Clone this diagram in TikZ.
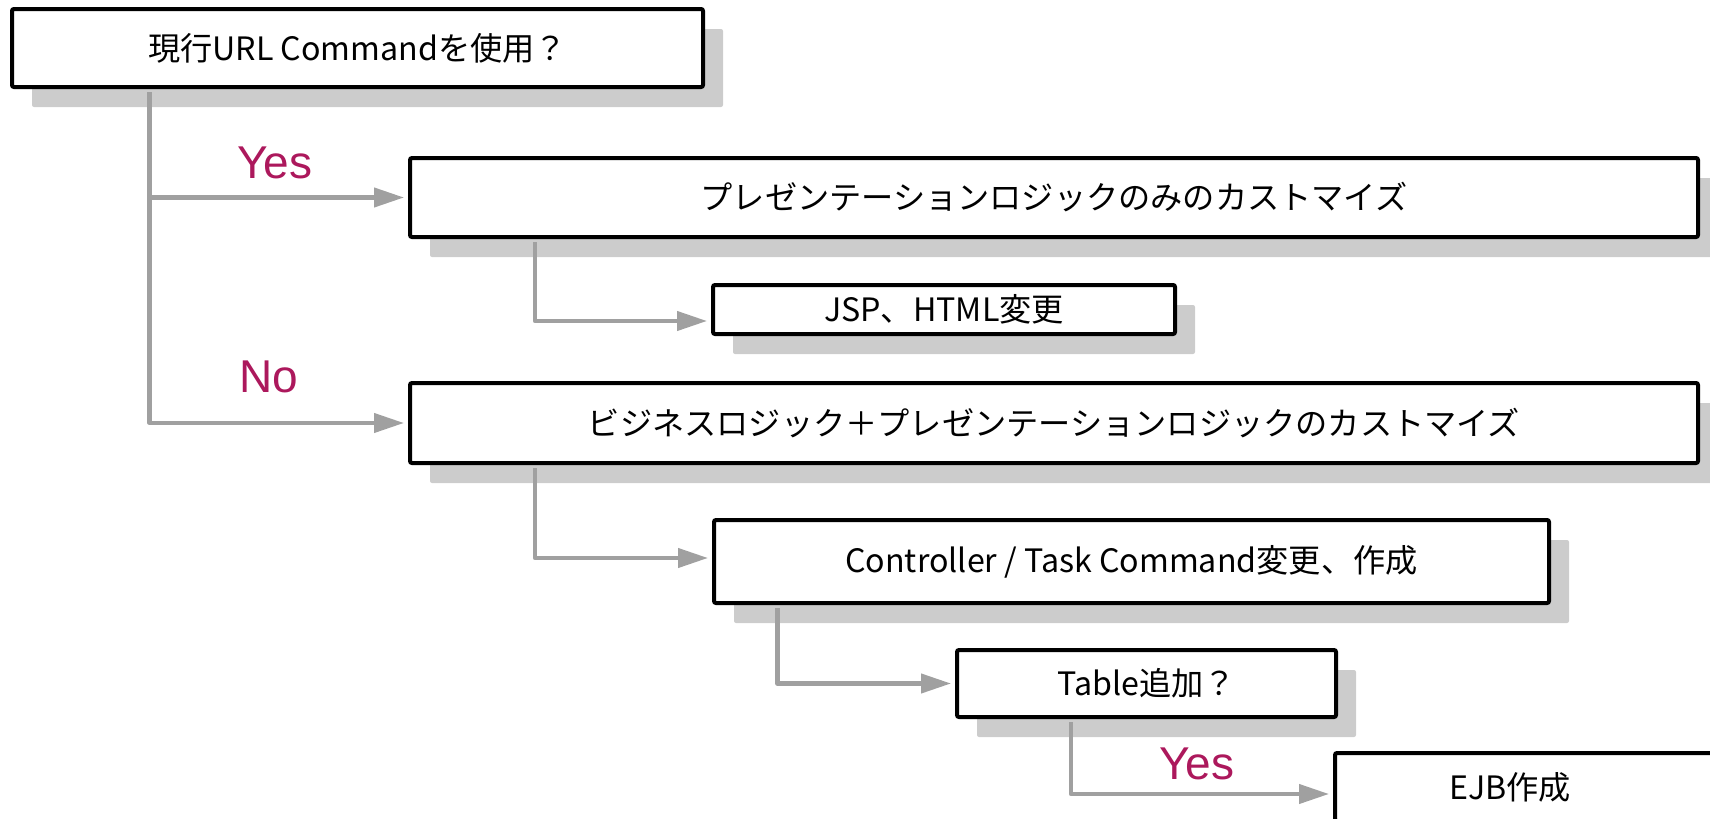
\documentclass[tikz,border=0pt]{standalone}
\usepackage{fontspec}
\setmainfont{Noto Sans CJK JP}
\newfontfamily\labelfont{Liberation Sans}
\usetikzlibrary{arrows.meta,shadows}
\definecolor{shadegray}{RGB}{204,204,204}
\definecolor{linkgray}{RGB}{160,160,160}
\definecolor{answer}{RGB}{172,24,92}

\begin{document}
\begin{tikzpicture}[x=0.5pt,y=-0.5pt,
  boxtext/.style={font=\fontsize{16.1}{20}\selectfont},
  box/.style={boxtext, draw=black, line width=2pt, fill=white, rounded corners=1pt,
    inner sep=0pt,
    general shadow={fill=shadegray, shadow xshift=10pt, shadow yshift=-10pt}},
  conn/.style={draw=linkgray, line width=2.1pt, line join=round,
    -{Triangle[length=15pt,width=9.5pt]}, shorten >=2pt, shorten <=1.5pt},
  answerlabel/.style={text=answer, inner sep=0pt,
    font=\labelfont\fontsize{23}{27}\selectfont}]
\useasboundingbox (0,0) rectangle (1710,819);
\clip (0,0) rectangle (1710,819);

% decision and task boxes
\node[box, minimum width=345.5pt, minimum height=39pt] (q1) at (357.5,48)
  {現行URL Commandを使用？};
\node[box, minimum width=644pt, minimum height=39.5pt] (pres) at (1054,197.5)
  {プレゼンテーションロジックのみのカストマイズ};
\node[box, minimum width=231pt, minimum height=24.5pt] (jsp) at (944,309.5)
  {JSP、HTML変更};
\node[box, minimum width=644pt, minimum height=40pt] (biz) at (1054,423)
  {ビジネスロジック＋プレゼンテーションロジックのカストマイズ};
\node[box, minimum width=417.5pt, minimum height=41.5pt] (ctl) at (1131.5,561.5)
  {Controller / Task Command変更、作成};
\node[box, minimum width=189.5pt, minimum height=33.5pt] (tbl) at (1146.5,683.5)
  {Table追加？};
\node[box, minimum width=211.5pt, minimum height=34pt] (ejbbox) at (1546.5,787) {};
\node[boxtext, inner sep=0pt] (ejb) at (1510,787) {EJB作成};

% branch points of the connectors
\coordinate (trunk) at (149.5,0);
\coordinate (c2) at (535,321);
\coordinate (c4) at (535,558);
\coordinate (c5) at (777.5,683.5);
\coordinate (c6) at (1071,794);

% connectors
\draw[conn] (q1.south -| trunk) |- (pres.west);
\draw[conn] (q1.south -| trunk) |- (biz.west);
\draw[conn] (pres.south -| c2) |- (jsp.west |- c2);
\draw[conn] (biz.south -| c4) |- (ctl.west |- c4);
\draw[conn] (ctl.south -| c5) |- (tbl.west |- c5);
\draw[conn] (tbl.south -| c6) |- (ejbbox.west |- c6);

% answer labels
\node[answerlabel] (yes1) at (275,163) {Yes};
\node[answerlabel] (no1) at (269,376.5) {No};
\node[answerlabel] (yes2) at (1197,764) {Yes};
\end{tikzpicture}
\end{document}
